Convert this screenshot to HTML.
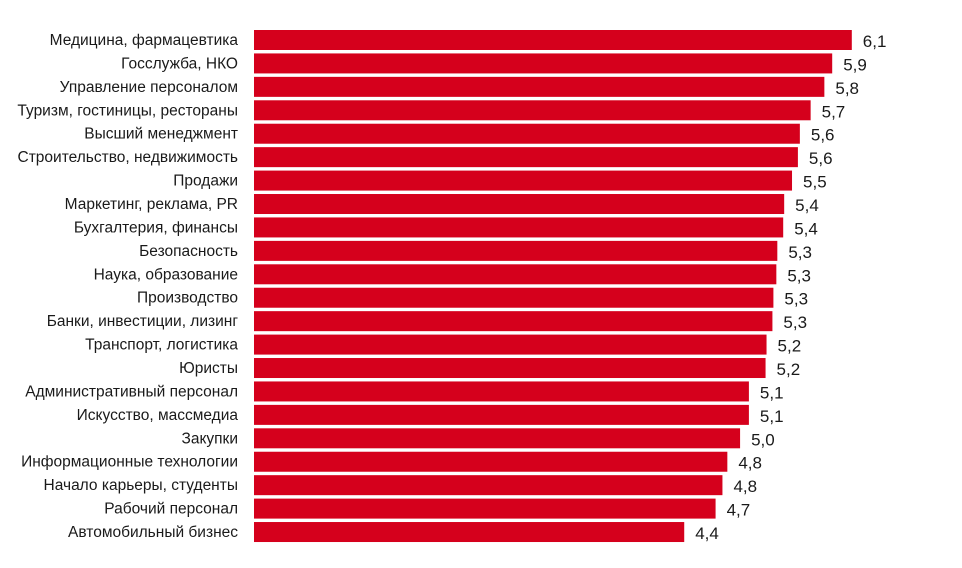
<!DOCTYPE html>
<html><head><meta charset="utf-8"><style>
html,body{margin:0;padding:0;background:#fff;}
svg{display:block;font-family:"Liberation Sans",sans-serif;}
</style></head><body>
<svg id="chart" width="962" height="568"></svg>
<script>
const categories=["Медицина, фармацевтика","Госслужба, НКО","Управление персоналом","Туризм, гостиницы, рестораны","Высший менеджмент","Строительство, недвижимость","Продажи","Маркетинг, реклама, PR","Бухгалтерия, финансы","Безопасность","Наука, образование","Производство","Банки, инвестиции, лизинг","Транспорт, логистика","Юристы","Административный персонал","Искусство, массмедиа","Закупки","Информационные технологии","Начало карьеры, студенты","Рабочий персонал","Автомобильный бизнес"];
const values=[6.10,5.90,5.82,5.68,5.57,5.55,5.49,5.41,5.40,5.34,5.33,5.30,5.29,5.23,5.22,5.05,5.05,4.96,4.83,4.78,4.71,4.39];
const valueLabels=["6,1","5,9","5,8","5,7","5,6","5,6","5,5","5,4","5,4","5,3","5,3","5,3","5,3","5,2","5,2","5,1","5,1","5,0","4,8","4,8","4,7","4,4"];
const NS="http://www.w3.org/2000/svg";
const svg=document.getElementById('chart');
const x0=254, scale=98, y0=30, pitch=23.43, bh=20;
function xScale(v){return x0+v*scale;}
function yScale(i){return y0+i*pitch;}
categories.forEach((c,i)=>{
  const y=yScale(i);
  const t=document.createElementNS(NS,'text');
  
  
  t.setAttribute('x',238);t.setAttribute('y',y+bh/2+5);
  t.setAttribute('text-anchor','end');t.setAttribute('font-size','15.5');t.setAttribute('fill','#1a1a1a');
  t.textContent=c;svg.appendChild(t);
  const r=document.createElementNS(NS,'rect');
  
  
  r.setAttribute('x',x0);r.setAttribute('y',y);r.setAttribute('width',xScale(values[i])-x0);r.setAttribute('height',bh);
  r.setAttribute('fill','#d5001c');svg.appendChild(r);
  const v=document.createElementNS(NS,'text');
  
  
  v.setAttribute('x',xScale(values[i])+11);v.setAttribute('y',y+bh/2+7);
  v.setAttribute('font-size','17');v.setAttribute('fill','#1a1a1a');
  v.textContent=valueLabels[i];svg.appendChild(v);
});
</script>
</body></html>
